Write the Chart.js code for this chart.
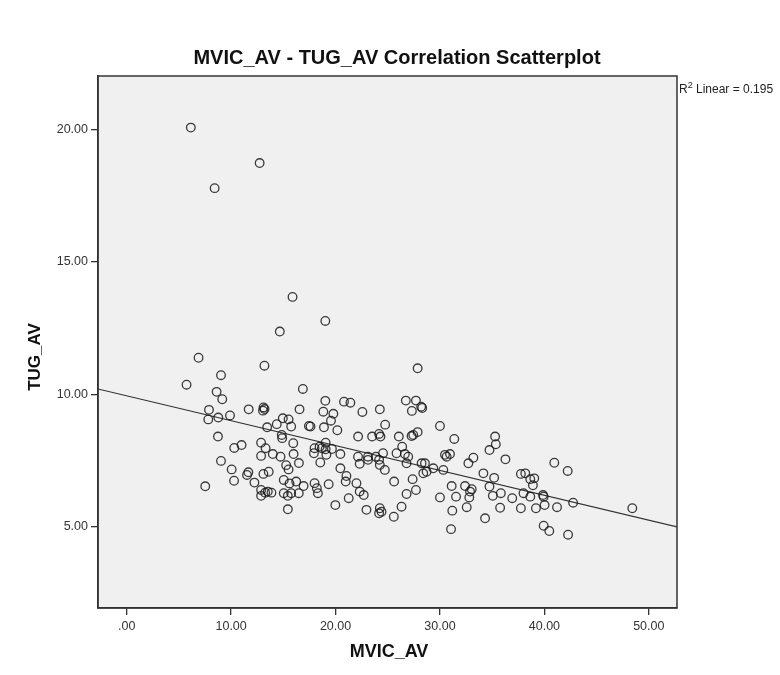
<!DOCTYPE html>
<html>
<head>
<meta charset="utf-8">
<script src="https://cdn.jsdelivr.net/npm/chart.js@4/dist/chart.umd.min.js"></script>
<style>
html,body{margin:0;padding:0;background:#fff;}
#wrap{width:780px;height:675px;}
</style>
</head>
<body>
<div id="wrap"><canvas id="c" width="780" height="675"></canvas></div>
<script>
const chartTitle = 'MVIC_AV - TUG_AV Correlation Scatterplot';
const xAxisTitle = 'MVIC_AV';
const yAxisTitle = 'TUG_AV';
const fitLabel = ' Linear = 0.195';

const mvicAv = [6.14,12.73,8.42,15.88,14.66,6.88,13.19,9.03,5.73,8.61,9.15,7.88,11.68,13.1,13.05,13.2,7.81,8.77,9.89,8.74,
10.3,11.0,12.87,13.3,13.45,14.37,14.95,15.5,15.75,14.85,14.89,15.95,12.87,13.99,14.73,15.98,9.03,
10.05,11.65,11.52,13.09,13.6,15.27,15.5,10.28,12.23,15.04,15.59,7.52,12.87,13.26,13.51,13.86,12.87,15.04,15.43,15.75,15.43,
19.02,27.86,16.87,16.55,19.02,20.81,21.42,18.83,19.79,22.57,24.24,26.73,27.7,27.31,28.2,28.3,17.45,17.6,18.89,19.56,20.17,24.75,
22.16,23.5,24.17,24.3,26.06,26.38,27.28,27.44,27.86,30.0,31.37,34.74,17.99,18.47,18.69,19.05,19.05,19.65,17.93,19.12,20.46,
22.15,23.11,23.85,24.55,25.84,26.64,26.96,30.48,30.96,30.64,33.2,
18.54,16.49,20.46,22.31,23.11,24.17,24.24,24.72,26.8,28.24,28.56,28.4,28.72,29.36,30.32,32.72,34.16,16.23,16.94,16.48,17.99,
18.21,18.31,19.34,21.04,20.97,22.0,22.31,22.7,19.98,21.26,22.96,24.24,24.4,24.17,25.61,26.32,25.58,26.8,27.38,27.7,30.0,31.12,
31.54,32.4,33.04,32.88,32.81,32.56,31.18,31.06,34.32,
35.28,35.35,36.27,35.19,34.74,35.06,35.83,36.92,35.76,37.75,38.17,38.65,39.03,38.9,38.0,38.65,39.87,39.93,37.75,39.19,40.02,
41.21,40.95,42.23,42.75,48.42,39.93,40.47,42.27];

const tugAv = [20.08,18.74,17.79,13.68,12.37,11.38,11.08,10.72,10.36,10.09,9.81,9.41,9.43,9.5,9.38,9.44,9.05,9.12,9.2,8.40,
7.97,8.08,8.17,7.96,8.75,8.87,9.09,9.05,8.78,8.46,8.34,8.15,7.67,7.74,7.64,7.74,7.48,
7.16,7.05,6.95,6.99,7.07,7.32,7.16,6.73,6.66,6.76,6.63,6.52,6.38,6.28,6.32,6.28,6.16,6.26,6.16,6.26,5.65,
12.77,10.98,10.2,9.43,9.75,9.72,9.68,9.34,9.26,9.33,9.43,9.76,9.76,9.37,9.53,9.48,8.8,8.78,8.75,9.0,8.64,8.85,
8.4,8.4,8.5,8.4,8.4,8.02,8.42,8.46,8.57,8.8,8.31,7.89,7.96,8.02,7.96,8.17,7.92,7.93,7.77,7.71,7.74,
7.64,7.64,7.64,7.77,7.77,7.74,7.64,7.71,7.74,7.64,7.6,
7.42,7.4,7.2,7.37,7.52,7.52,7.33,7.14,7.39,7.39,7.39,7.01,7.07,7.2,7.14,7.39,7.01,6.7,6.53,6.26,6.64,
6.45,6.26,6.6,6.91,6.7,6.64,6.32,6.19,5.81,6.07,5.63,5.69,5.56,5.5,6.7,5.75,5.37,6.23,6.79,6.38,6.1,6.53,
6.13,6.53,6.41,6.32,6.1,5.73,5.6,4.9,5.31,
8.4,8.11,7.54,6.84,6.51,6.16,6.26,6.07,5.71,6.99,7.01,6.79,6.82,6.56,6.26,6.13,6.19,6.13,5.69,5.69,5.81,
5.73,7.41,7.1,5.9,5.69,5.03,4.83,4.69];

const xTicks = [0, 10, 20, 30, 40, 50];
const yTicks = [5, 10, 15, 20];
const xRange = [-2.75, 52.7];
const yRange = [1.92, 22.03];
const fitIntercept = 9.94;
const fitSlope = -0.094;

const points = mvicAv.map((x, i) => ({x: x, y: tugAv[i]}));
const fitLine = xRange.map(x => ({x: x, y: fitIntercept + fitSlope * x}));

const fmt = v => v === 0 ? '.00' : v.toFixed(2);
const FONT = "'Liberation Sans', Arial, sans-serif";

const decor = {
  id: 'decor',
  beforeDraw(chart) {
    const ctx = chart.ctx, a = chart.chartArea;
    ctx.save();
    ctx.fillStyle = '#ffffff';
    ctx.fillRect(0, 0, chart.width, chart.height);
    ctx.fillStyle = '#f0f0f0';
    ctx.fillRect(a.left, a.top, a.right - a.left, a.bottom - a.top);
    ctx.restore();
  },
  afterDraw(chart) {
    const ctx = chart.ctx, a = chart.chartArea;
    ctx.save();
    ctx.strokeStyle = '#333';
    ctx.lineWidth = 1.5;
    ctx.strokeRect(a.left, a.top, a.right - a.left, a.bottom - a.top);
    ctx.fillStyle = '#111';
    ctx.textAlign = 'center';
    ctx.textBaseline = 'middle';
    ctx.font = 'bold 20px ' + FONT;
    ctx.fillText(chartTitle, 397, 58);
    ctx.font = 'bold 18px ' + FONT;
    ctx.fillText(xAxisTitle, 389, 652);
    ctx.font = 'bold 17px ' + FONT;
    ctx.save();
    ctx.translate(35, 357);
    ctx.rotate(-Math.PI / 2);
    ctx.fillText(yAxisTitle, 0, 0);
    ctx.restore();
    ctx.textAlign = 'left';
    ctx.textBaseline = 'alphabetic';
    ctx.fillStyle = '#222';
    let x0 = 679, base = 93;
    ctx.font = '12px ' + FONT;
    ctx.fillText('R', x0, base);
    x0 += ctx.measureText('R').width;
    ctx.font = '9px ' + FONT;
    ctx.fillText('2', x0, base - 5);
    x0 += ctx.measureText('2').width;
    ctx.font = '12px ' + FONT;
    ctx.fillText(fitLabel, x0, base);
    ctx.restore();
  }
};

new Chart(document.getElementById('c'), {
  type: 'scatter',
  data: {
    datasets: [
      {
        type: 'line',
        data: fitLine,
        borderColor: '#333',
        borderWidth: 1.1,
        pointRadius: 0,
        fill: false,
        order: 2
      },
      {
        data: points,
        pointStyle: 'circle',
        pointRadius: 4.3,
        pointBorderWidth: 1.3,
        borderColor: 'rgba(25,25,25,0.85)',
        backgroundColor: 'rgba(0,0,0,0)',
        pointHoverRadius: 4.3,
        order: 1
      }
    ]
  },
  options: {
    responsive: false,
    animation: false,
    devicePixelRatio: 1,
    events: [],
    layout: {padding: {top: 76, right: 103, bottom: 0, left: 0}},
    plugins: {legend: {display: false}, title: {display: false}, tooltip: {enabled: false}},
    scales: {
      x: {
        type: 'linear',
        min: xRange[0],
        max: xRange[1],
        afterBuildTicks: s => { s.ticks = xTicks.map(v => ({value: v})); },
        afterFit: s => { s.height = 67; },
        grid: {display: true, drawOnChartArea: false, drawTicks: true, tickLength: 7, color: '#333', lineWidth: 1.3},
        border: {display: true, color: '#333', width: 1.5},
        ticks: {callback: v => fmt(v), color: '#333', padding: 4, font: {family: FONT, size: 12.5}, maxRotation: 0}
      },
      y: {
        type: 'linear',
        min: yRange[0],
        max: yRange[1],
        afterBuildTicks: s => { s.ticks = yTicks.map(v => ({value: v})); },
        afterFit: s => { s.width = 98; },
        grid: {display: true, drawOnChartArea: false, drawTicks: true, tickLength: 7, color: '#333', lineWidth: 1.3},
        border: {display: true, color: '#333', width: 1.5},
        ticks: {callback: v => fmt(v), color: '#333', padding: 3, font: {family: FONT, size: 12.5}}
      }
    }
  },
  plugins: [decor]
});
</script>
</body>
</html>
